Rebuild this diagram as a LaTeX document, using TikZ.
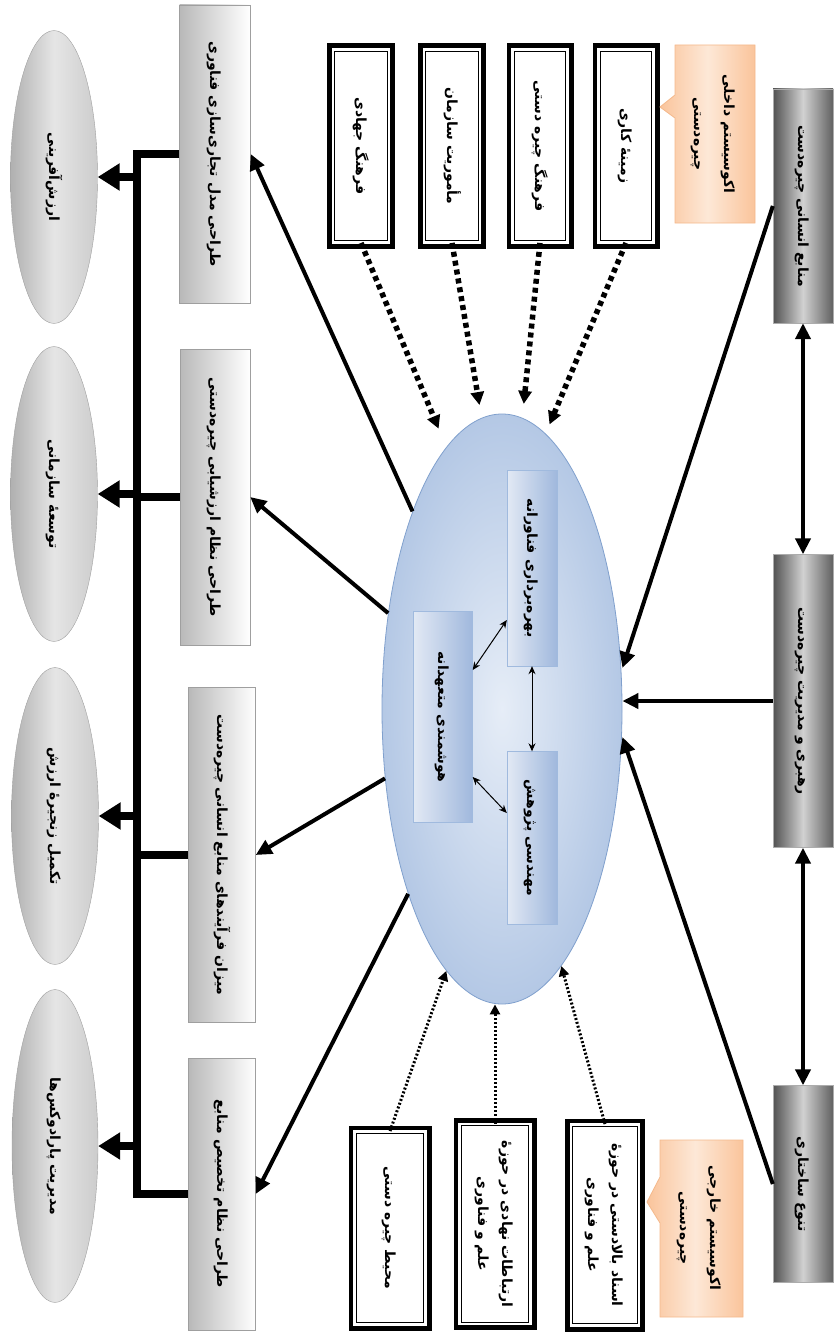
\documentclass[tikz,border=0pt]{standalone}
\usepackage{fontspec}
\usepackage{graphicx}
\newfontfamily\farsi[Script=Arabic]{DejaVu Sans}
\TeXXeTstate=1
\usetikzlibrary{shapes.geometric, arrows.meta}
\newcommand{\rl}[1]{\beginR #1\endR}
\newcommand{\vtext}[1]{\rotatebox{-90}{\begin{tabular}{@{}c@{}}#1\end{tabular}}}
\definecolor{coreedge}{RGB}{128,160,205}
\definecolor{corein}{RGB}{230,237,247}
\definecolor{coreout}{RGB}{180,200,229}
\definecolor{pillarlight}{RGB}{226,233,244}
\definecolor{pillardark}{RGB}{160,184,221}
\definecolor{pillaredge}{RGB}{160,186,222}
\definecolor{ecoedge}{RGB}{244,185,140}
\definecolor{ecodark}{RGB}{250,196,155}
\definecolor{ecolight}{RGB}{253,232,215}

\begin{document}
\begin{tikzpicture}[x=1pt, y=-1pt,
    font=\farsi\bfseries\fontsize{14}{24}\selectfont,
    outcome/.style={ellipse, draw=gray!75, inner sep=0pt, left color=gray!62, right color=gray!40, middle color=gray!20},
    design/.style={rectangle, draw=gray!75, inner sep=0pt, left color=gray!55, right color=white},
    driver/.style={rectangle, draw=gray!65, inner sep=0pt, left color=black!68, right color=black!62, middle color=black!18},
    pillar/.style={rectangle, draw=pillaredge, inner sep=0pt, left color=pillarlight, right color=pillardark},
    context/.style={rectangle, inner sep=0pt, fill=white, preaction={draw, line width=12pt}, draw, line width=0.9pt, double=white, double distance=2.5pt},
    eco/.style={draw=ecoedge, line width=0.8pt, left color=ecodark, right color=ecodark, middle color=ecolight},
    ecotext/.style={inner sep=0pt, font=\farsi\bfseries\fontsize{14}{30}\selectfont},
    flow/.style={line width=4pt, -{Triangle[length=16pt, width=15pt]}},
    link/.style={line width=4pt, {Triangle[length=16pt, width=15pt]}-{Triangle[length=16pt, width=15pt]}},
    bus/.style={line width=8pt},
    busarrow/.style={line width=8pt, -{Triangle[length=22pt, width=26pt]}},
    pair/.style={line width=1pt, {Stealth[length=8pt, width=7pt]}-{Stealth[length=8pt, width=7pt]}},
    internal/.style={line width=5.5pt, dash pattern=on 5pt off 4pt, -{Triangle[length=13pt, width=13pt]}},
    external/.style={line width=3pt, dash pattern=on 2pt off 2pt, -{Triangle[length=10pt, width=10pt]}}
]
\useasboundingbox (0,0) rectangle (835,1335);

% outcomes
\node[outcome, minimum width=87pt, minimum height=293pt] (valuecreation) at (54,177) {\vtext{\rl{ارزش^^^^200cآفرینی}}};
\node[outcome, minimum width=87pt, minimum height=295pt] (orgdev) at (54,494) {\vtext{\rl{توسعه^^^^0654 سازمانی}}};
\node[outcome, minimum width=87pt, minimum height=297pt] (valuechain) at (55,816) {\vtext{\rl{تکمیل زنجیره^^^^0654 ارزش}}};
\node[outcome, minimum width=86pt, minimum height=313pt] (paradox) at (55,1146) {\vtext{\rl{مدیریت پارادوکس^^^^200cها}}};

% design boxes
\node[design, minimum width=71pt, minimum height=298pt] (bizmodel) at (215,154) {\vtext{\rl{طراحی مدل تجاری^^^^200cسازی فناوری}}};
\node[design, minimum width=70pt, minimum height=296pt] (evalsys) at (215,497) {\vtext{\rl{طراحی نظام ارزشیابی چیره^^^^200cدستی}}};
\node[design, minimum width=67pt, minimum height=335pt] (hrproc) at (222,855) {\vtext{\rl{میزان فرآیندهای منابع انسانی چیره^^^^200cدست}}};
\node[design, minimum width=67pt, minimum height=272pt] (allocsys) at (222,1194) {\vtext{\rl{طراحی نظام تخصیص منابع}}};

% core
\node[ellipse, draw=coreedge, line width=0.8pt, inner color=corein, outer color=coreout, minimum width=240pt, minimum height=590pt] (core) at (502,709) {};
\node[pillar, minimum width=50pt, minimum height=196pt] (exploit) at (532,568) {\vtext{\rl{بهره^^^^200cبرداری فناورانه}}};
\node[pillar, minimum width=50pt, minimum height=173pt] (research) at (532,838) {\vtext{\rl{مهندسی پژوهش}}};
\node[pillar, minimum width=59pt, minimum height=211pt] (intel) at (443,717) {\vtext{\rl{هوشمندی متعهدانه}}};

% drivers
\node[driver, minimum width=60pt, minimum height=234pt] (talent) at (803,206) {\vtext{\rl{منابع انسانی چیره^^^^200cدست}}};
\node[driver, minimum width=60pt, minimum height=293pt] (leadership) at (803,701) {\vtext{\rl{رهبری و مدیریت چیره^^^^200cدست}}};
\node[driver, minimum width=60pt, minimum height=197pt] (diversity) at (803,1184) {\vtext{\rl{تنوع ساختاری}}};

% internal ecosystem
\node[context, minimum width=56pt, minimum height=193pt] (jihad) at (361,146) {\vtext{\rl{فرهنگ جهادی}}};
\node[context, minimum width=56pt, minimum height=193pt] (mission) at (452,146) {\vtext{\rl{مأموریت سازمان}}};
\node[context, minimum width=55pt, minimum height=193pt] (mastery) at (540,146) {\vtext{\rl{فرهنگ چیره دستی}}};
\node[context, minimum width=55pt, minimum height=193pt] (workctx) at (626,146) {\vtext{\rl{زمینه^^^^0654 کاری}}};
\draw[eco] (675,45) -- (755,45) -- (755,223) -- (675,223) -- (675,118) -- (660,107) -- (675,95) -- cycle;
\node[ecotext] (intcallout) at (715,134) {\vtext{\rl{اکوسیستم داخلی}\\\rl{چیره^^^^200cدستی}}};

% external ecosystem
\node[context, minimum width=71pt, minimum height=193pt] (environment) at (390,1228) {\vtext{\rl{محیط چیره دستی}}};
\node[context, minimum width=71pt, minimum height=200pt] (instlinks) at (495,1224) {\vtext{\rl{ارتباطات نهادی در حوزه^^^^0654}\\\rl{علم و فناوری}}};
\node[context, minimum width=68pt, minimum height=201pt] (updocs) at (605,1225) {\vtext{\rl{اسناد بالادستی در حوزه^^^^0654}\\\rl{علم و فناوری}}};
\draw[eco] (660,1140) -- (743,1140) -- (743,1317) -- (660,1317) -- (660,1223) -- (647,1202) -- (660,1177) -- cycle;
\node[ecotext] (extcallout) at (701,1228) {\vtext{\rl{اکوسیستم خارجی}\\\rl{چیره^^^^200cدستی}}};

% bus to outcomes
\coordinate (bustop) at (137,154);
\coordinate (busend) at (137,1194);
\draw[bus] (bizmodel.west) -- (bustop) -- (busend) -- (allocsys.west);
\draw[bus] (evalsys.west) -- (evalsys.west -| bustop);
\draw[bus] (hrproc.west) -- (hrproc.west -| bustop);
\foreach \e in {valuecreation, orgdev, valuechain, paradox}
  \draw[busarrow] (\e.east -| bustop) -- (\e.east);

% core to designs
\foreach \d in {bizmodel, evalsys, hrproc, allocsys}
  \draw[flow] (core) -- (\d.east);

% drivers
\draw[flow] (talent.west) -- ([yshift=41pt]core.east);
\draw[flow] (leadership.west) -- (leadership.west -| core.east);
\draw[flow] (diversity.west) -- ([yshift=-28pt]core.east);
\draw[link] (talent.south) -- (leadership.north);
\draw[link] (leadership.south) -- (diversity.north);

% inside the core
\draw[pair] (exploit.south) -- (research.north);
\draw[pair] ([yshift=-52pt]exploit.west) -- ([yshift=47pt]intel.east);
\draw[pair] ([yshift=25pt]research.west) -- ([yshift=-60pt]intel.east);

% ecosystems
\draw[internal, shorten >=20pt] (jihad.south) -- (core.102);
\draw[internal, shorten >=13pt] (mission.south) -- (core.94);
\draw[internal, shorten >=14pt] (mastery.south) -- (core.86);
\draw[internal, shorten >=10pt] (workctx.south) -- (core.81);
\draw[external] (environment.north) -- (core.258);
\draw[external] (instlinks.north) -- (instlinks.north |- core.south);
\draw[external] (updocs.north) -- (core.283);

\end{tikzpicture}
\end{document}
